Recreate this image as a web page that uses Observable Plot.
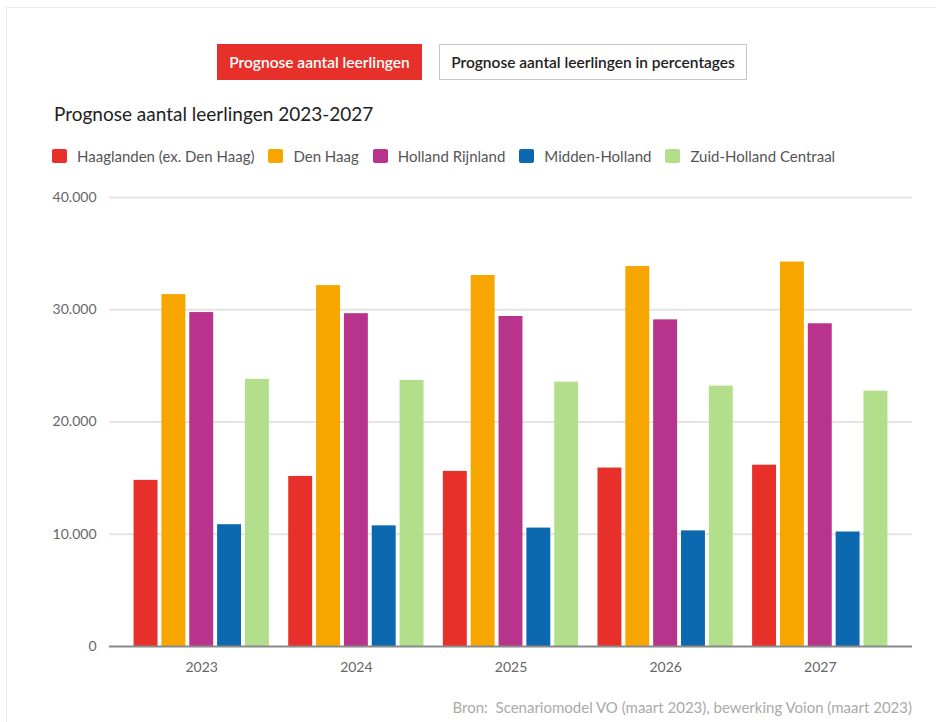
<!DOCTYPE html>
<html><head><meta charset="utf-8">
<script src="https://cdn.jsdelivr.net/npm/d3@7"></script>
<script src="https://cdn.jsdelivr.net/npm/@observablehq/plot@0.6"></script>
<style>
body{margin:0;background:#fff;font-family:Lato,"Noto Sans",sans-serif;}
#wrap{position:relative;width:936px;height:722px;overflow:hidden;background:#fff;}
.card{position:absolute;left:6px;top:7px;width:940px;height:730px;border:1px solid #ececec;box-sizing:border-box;}
.btn{position:absolute;top:44px;height:36px;box-sizing:border-box;display:flex;align-items:center;justify-content:center;font-size:15.5px;font-weight:600;white-space:nowrap;}
#b1{left:217px;width:205px;background:#e8302a;color:#fff;}
#b2{left:439px;width:308px;background:#fff;color:#222;border:1px solid #c8c8c8;}
#title{position:absolute;left:54px;top:102px;font-size:19px;color:#222;white-space:nowrap;}
#legend{position:absolute;left:52px;top:147px;display:flex;align-items:center;font-size:15px;color:#555;white-space:nowrap;}
.item{display:flex;align-items:center;margin-right:14px;}
.sw{width:15px;height:14px;border-radius:2px;margin-right:10px;}
.layer{position:absolute;left:0;top:180px;}
#source{position:absolute;right:24px;top:698px;font-size:15px;color:#aaa;white-space:nowrap;}
</style></head>
<body>
<div id="wrap">
  <div class="card"></div>
  <div class="btn" id="b1">Prognose aantal leerlingen</div>
  <div class="btn" id="b2">Prognose aantal leerlingen in percentages</div>
  <div id="title">Prognose aantal leerlingen 2023-2027</div>
  <div id="legend"></div>
  <div class="layer" id="la"></div>
  <div class="layer" id="lb"></div>
  <div class="layer" id="lc"></div>
  <div id="source">Bron:&nbsp; Scenariomodel VO (maart 2023), bewerking Voion (maart 2023)</div>
</div>
<script>
const years = ["2023", "2024", "2025", "2026", "2027"];
const regions = ["Haaglanden (ex. Den Haag)", "Den Haag", "Holland Rijnland", "Midden-Holland", "Zuid-Holland Centraal"];
const colors = ["#e8302a", "#f7a600", "#b8338c", "#0c69b0", "#b3df8c"];
const haaglanden = [14800, 15150, 15600, 15900, 16150];
const denHaag = [31350, 32150, 33050, 33850, 34250];
const hollandRijnland = [29750, 29650, 29400, 29100, 28750];
const middenHolland = [10850, 10750, 10550, 10300, 10200];
const zuidHollandCentraal = [23800, 23700, 23550, 23200, 22750];
const yTicks = [0, 10000, 20000, 30000, 40000];

const series = [haaglanden, denHaag, hollandRijnland, middenHolland, zuidHollandCentraal];
const data = years.flatMap((yr, i) => regions.map((r, j) => ({year: yr, region: r, value: series[j][i]})));

// legend
const leg = document.getElementById("legend");
regions.forEach((r, i) => {
  const it = document.createElement("div"); it.className = "item";
  const sw = document.createElement("div"); sw.className = "sw"; sw.style.background = colors[i];
  const tx = document.createElement("span"); tx.textContent = r;
  it.appendChild(sw); it.appendChild(tx); leg.appendChild(it);
});

const fmt = d3.formatLocale({decimal: ",", thousands: ".", grouping: [3], currency: ["€", ""]}).format(",");
const dims = {width: 936, height: 510, marginTop: 17, marginBottom: 44, marginLeft: 109, marginRight: 24};
const yDomain = [0, 40000];
const bandPad = {type: "band", paddingInner: 0.125, paddingOuter: 0.159, round: false};

// Layer A: gridlines + axes
const A = Plot.plot({
  ...dims,
  style: {background: "transparent", fontFamily: "Lato, sans-serif", fontSize: "14px", color: "#666"},
  x: {domain: years, ...bandPad, tickSize: 0, tickPadding: 16, label: null},
  y: {domain: yDomain, ticks: yTicks, tickFormat: fmt, tickSize: 0, tickPadding: 13, label: null},
  marks: [
    Plot.ruleY(yTicks.filter(d => d > 0), {stroke: "#e4e4e4", strokeWidth: 2}),
    Plot.barY(years, {x: d => d, y1: () => 0, y2: () => 0, fillOpacity: 0})
  ]
});
document.getElementById("la").appendChild(A);

// Layer B: grouped bars
const B = Plot.plot({
  ...dims,
  style: {background: "transparent"},
  facet: {data: data, x: "year"},
  fx: {domain: years, ...bandPad, axis: null, label: null},
  x: {domain: regions, paddingInner: 0.14, paddingOuter: 0, round: false, axis: null},
  y: {domain: yDomain, axis: null},
  color: {domain: regions, range: colors},
  marks: [
    Plot.barY(data, {x: "region", y: "value", fill: "region"})
  ]
});
document.getElementById("lb").appendChild(B);

// Layer C: baseline
const C = Plot.plot({
  ...dims,
  style: {background: "transparent"},
  y: {domain: yDomain, axis: null},
  marks: [Plot.ruleY([0], {stroke: "#8a8a8a", strokeWidth: 2})]
});
document.getElementById("lc").appendChild(C);
</script>
</body></html>
